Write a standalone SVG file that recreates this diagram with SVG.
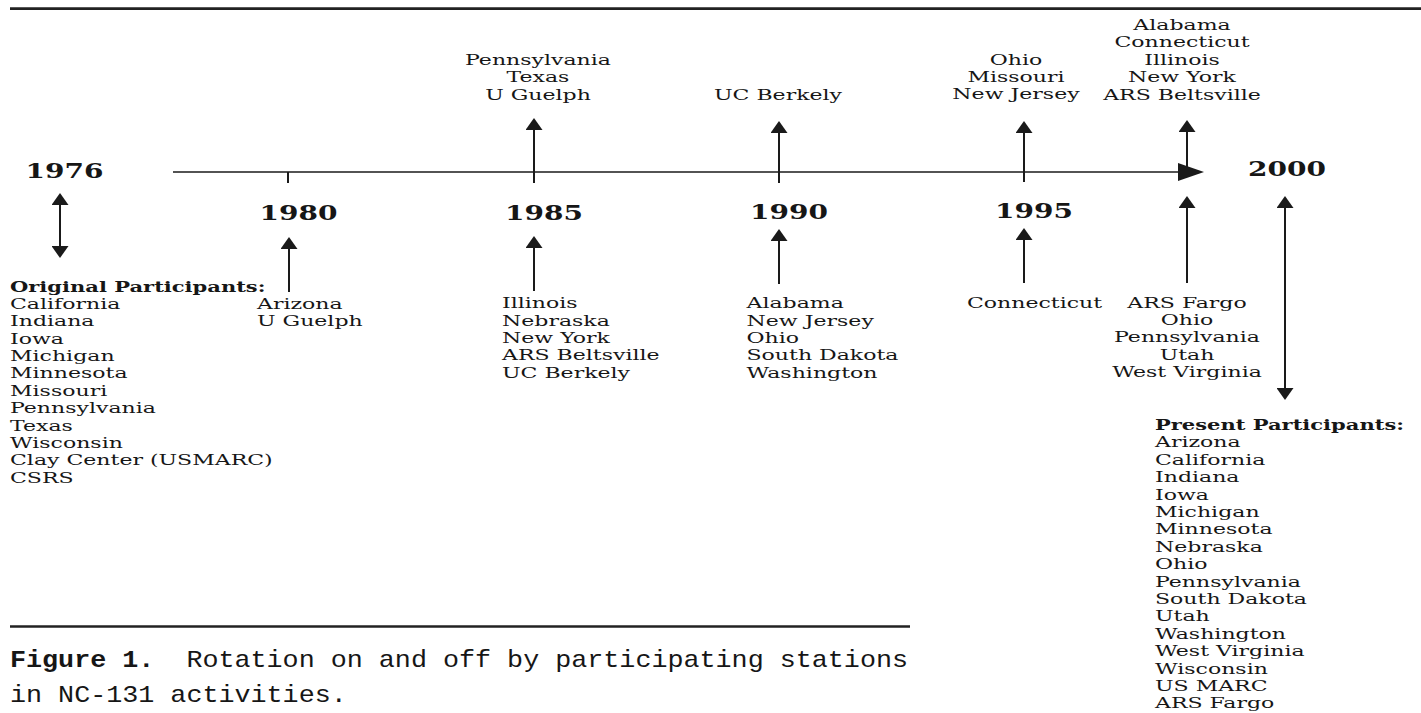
<svg xmlns="http://www.w3.org/2000/svg" width="1421" height="713" viewBox="0 0 1421 713">
<style>
.t{font-family:"DejaVu Serif",serif;font-size:14.5px;fill:#161616}
.b{font-weight:bold}
.yr{font-family:"DejaVu Serif",serif;font-size:20px;font-weight:bold;fill:#161616;text-anchor:middle}
.c{text-anchor:middle}
.cap{font-family:"Liberation Mono",monospace;font-size:24px;fill:#161616}
.ln{stroke:#1a1a1a;stroke-width:2;fill:none}
.ar{stroke:#1a1a1a;stroke-width:2;fill:none;marker-end:url(#ah)}
.dar{stroke:#1a1a1a;stroke-width:2;fill:none;marker-start:url(#ah);marker-end:url(#ah)}
</style>
<defs>
<marker id="ah" viewBox="0 0 12 17" refX="9" refY="8.5" markerWidth="12" markerHeight="17" markerUnits="userSpaceOnUse" orient="auto-start-reverse">
<path d="M0,0 L12,8.5 L0,17 Z" fill="#1a1a1a"/>
</marker>
</defs>
<rect width="1421" height="713" fill="#fff"/>

<g id="rules">
<line x1="10" y1="8.7" x2="1421" y2="8.7" stroke="#222" stroke-width="2.8"/>
<line x1="10" y1="626.5" x2="910" y2="626.5" stroke="#222" stroke-width="2.6"/>
</g>

<g id="connectors">
<line x1="173" y1="172" x2="1182" y2="172" stroke="#1a1a1a" stroke-width="1.6"/>
<path d="M1178,163 L1204,172 L1178,181 Z" fill="#1a1a1a"/>
<line class="ln" x1="288" y1="172" x2="288" y2="183"/>
<line class="dar" x1="60" y1="196" x2="60" y2="255"/>
<line class="ar" x1="289" y1="292" x2="289" y2="240"/>
<line class="ar" x1="534" y1="183" x2="534" y2="121"/>
<line class="ar" x1="534" y1="291" x2="534" y2="239"/>
<line class="ar" x1="779" y1="183" x2="779" y2="124"/>
<line class="ar" x1="779" y1="284" x2="779" y2="232"/>
<line class="ar" x1="1024" y1="182" x2="1024" y2="124"/>
<line class="ar" x1="1024" y1="283" x2="1024" y2="231"/>
<line class="ar" x1="1187" y1="170" x2="1187" y2="123"/>
<line class="ar" x1="1187" y1="283" x2="1187" y2="199"/>
<line class="dar" x1="1285" y1="199" x2="1285" y2="397"/>
</g>

<g id="year-1976"><text class="yr" transform="translate(64.5,178) scale(1.4,1)">1976</text></g>
<g id="year-1980"><text class="yr" transform="translate(298.5,220) scale(1.4,1)">1980</text></g>
<g id="year-1985"><text class="yr" transform="translate(544,220) scale(1.4,1)">1985</text></g>
<g id="year-1990"><text class="yr" transform="translate(789,219) scale(1.4,1)">1990</text></g>
<g id="year-1995"><text class="yr" transform="translate(1034,218) scale(1.4,1)">1995</text></g>
<g id="year-2000"><text class="yr" transform="translate(1287,176) scale(1.4,1)">2000</text></g>

<g id="off-1985"><text class="t c" transform="translate(538,65) scale(1.52,1)"><tspan x="0" y="0">Pennsylvania</tspan><tspan x="0" dy="17.5">Texas</tspan><tspan x="0" dy="17.5">U Guelph</tspan></text></g>
<g id="off-1990"><text class="t c" transform="translate(778,100) scale(1.52,1)">UC Berkely</text></g>
<g id="off-1995"><text class="t c" transform="translate(1016,64.5) scale(1.52,1)"><tspan x="0" y="0">Ohio</tspan><tspan x="0" dy="17.5">Missouri</tspan><tspan x="0" dy="17.5">New Jersey</tspan></text></g>
<g id="off-2000"><text class="t c" transform="translate(1182,29.5) scale(1.52,1)"><tspan x="0" y="0">Alabama</tspan><tspan x="0" dy="17.6">Connecticut</tspan><tspan x="0" dy="17.6">Illinois</tspan><tspan x="0" dy="17.6">New York</tspan><tspan x="0" dy="17.6">ARS Beltsville</tspan></text></g>

<g id="original-participants"><text class="t b" transform="translate(10,291.5) scale(1.45,1)">Original Participants:</text><text class="t" transform="translate(10,308.9) scale(1.52,1)"><tspan x="0" y="0">California</tspan><tspan x="0" dy="17.4">Indiana</tspan><tspan x="0" dy="17.4">Iowa</tspan><tspan x="0" dy="17.4">Michigan</tspan><tspan x="0" dy="17.4">Minnesota</tspan><tspan x="0" dy="17.4">Missouri</tspan><tspan x="0" dy="17.4">Pennsylvania</tspan><tspan x="0" dy="17.4">Texas</tspan><tspan x="0" dy="17.4">Wisconsin</tspan><tspan x="0" dy="17.4">Clay Center (USMARC)</tspan><tspan x="0" dy="17.4">CSRS</tspan></text></g>
<g id="on-1980"><text class="t" transform="translate(257,309) scale(1.52,1)"><tspan x="0" y="0">Arizona</tspan><tspan x="0" dy="17.4">U Guelph</tspan></text></g>
<g id="on-1985"><text class="t" transform="translate(502,308.3) scale(1.52,1)"><tspan x="0" y="0">Illinois</tspan><tspan x="0" dy="17.4">Nebraska</tspan><tspan x="0" dy="17.4">New York</tspan><tspan x="0" dy="17.4">ARS Beltsville</tspan><tspan x="0" dy="17.4">UC Berkely</tspan></text></g>
<g id="on-1990"><text class="t" transform="translate(746.5,308.3) scale(1.52,1)"><tspan x="0" y="0">Alabama</tspan><tspan x="0" dy="17.4">New Jersey</tspan><tspan x="0" dy="17.4">Ohio</tspan><tspan x="0" dy="17.4">South Dakota</tspan><tspan x="0" dy="17.4">Washington</tspan></text></g>
<g id="on-1995"><text class="t" transform="translate(967,307.5) scale(1.52,1)">Connecticut</text></g>
<g id="on-2000"><text class="t c" transform="translate(1187,307.5) scale(1.52,1)"><tspan x="0" y="0">ARS Fargo</tspan><tspan x="0" dy="17.5">Ohio</tspan><tspan x="0" dy="17.5">Pennsylvania</tspan><tspan x="0" dy="17.5">Utah</tspan><tspan x="0" dy="17.5">West Virginia</tspan></text></g>
<g id="present-participants"><text class="t b" transform="translate(1155,430) scale(1.45,1)">Present Participants:</text><text class="t" transform="translate(1155,447.4) scale(1.52,1)"><tspan x="0" y="0">Arizona</tspan><tspan x="0" dy="17.4">California</tspan><tspan x="0" dy="17.4">Indiana</tspan><tspan x="0" dy="17.4">Iowa</tspan><tspan x="0" dy="17.4">Michigan</tspan><tspan x="0" dy="17.4">Minnesota</tspan><tspan x="0" dy="17.4">Nebraska</tspan><tspan x="0" dy="17.4">Ohio</tspan><tspan x="0" dy="17.4">Pennsylvania</tspan><tspan x="0" dy="17.4">South Dakota</tspan><tspan x="0" dy="17.4">Utah</tspan><tspan x="0" dy="17.4">Washington</tspan><tspan x="0" dy="17.4">West Virginia</tspan><tspan x="0" dy="17.4">Wisconsin</tspan><tspan x="0" dy="17.4">US MARC</tspan><tspan x="0" dy="17.4">ARS Fargo</tspan></text></g>

<g id="caption"><text class="cap" xml:space="preserve" transform="translate(10,667) scale(1.114,1)"><tspan x="0" y="0"><tspan font-weight="bold">Figure 1.</tspan>  Rotation on and off by participating stations</tspan><tspan x="0" y="35">in NC-131 activities.</tspan></text></g>
</svg>
